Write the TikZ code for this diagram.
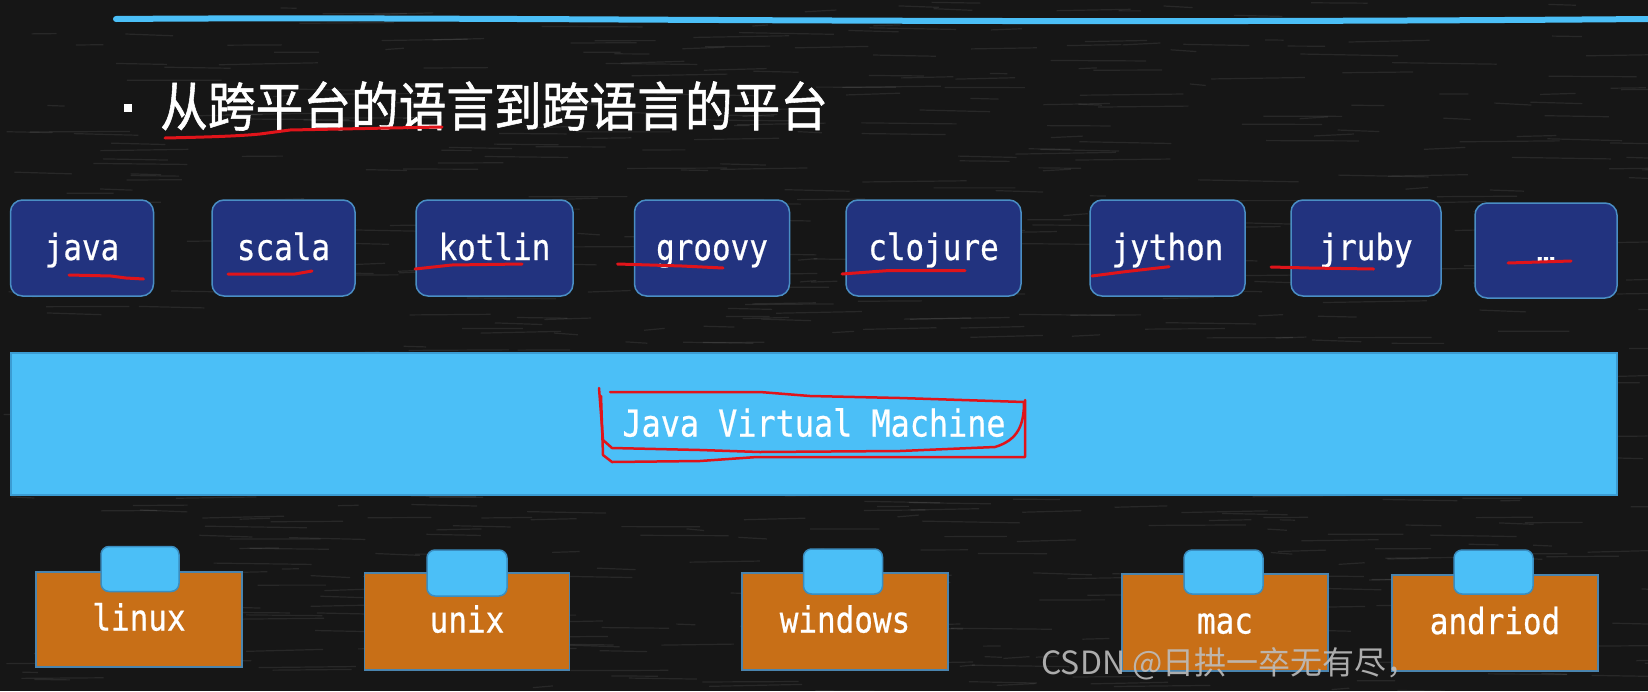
\documentclass[tikz,border=0pt]{standalone}
\usepackage{fontspec}
\newfontfamily\cjk{Noto Sans CJK SC}
\newfontfamily\titlefont[FakeStretch=0.9,FakeBold=1]{Noto Sans CJK SC}
\newfontfamily\monofont[FakeStretch=0.86,FakeBold=0.6]{DejaVu Sans Mono}
\definecolor{bg}{HTML}{161616}
\definecolor{langfill}{HTML}{22337F}
\definecolor{langedge}{HTML}{4A8EC4}
\definecolor{jvmfill}{HTML}{4BBFF7}
\definecolor{jvmedge}{HTML}{3B9CD3}
\definecolor{osfill}{HTML}{C86F17}
\definecolor{osedge}{HTML}{4A84AE}
\definecolor{tabfill}{HTML}{4BBFF7}
\definecolor{tabedge}{HTML}{3A8DC0}
\definecolor{redmark}{HTML}{E0141A}
\definecolor{wmark}{HTML}{BDBDBD}
\begin{document}
\begin{tikzpicture}[x=1pt,y=-1pt,
  langbox/.style={draw=langedge, fill=langfill, line width=1.5pt, rounded corners=12pt,
    text=white, font=\monofont\fontsize{36}{36}\selectfont, inner sep=0pt,
    text height=30pt, text depth=6pt},
  jvmbox/.style={draw=jvmedge, fill=jvmfill, line width=1.5pt,
    text=white, font=\monofont\fontsize{37}{37}\selectfont, inner sep=0pt,
    text height=30pt, text depth=5pt},
  osbox/.style={draw=osedge, fill=osfill, line width=1.5pt,
    text=white, font=\monofont\fontsize{36}{36}\selectfont, inner sep=0pt,
    text height=28pt, text depth=6pt},
  ostab/.style={draw=tabedge, fill=tabfill, line width=1.5pt, rounded corners=8pt, inner sep=0pt},
  redpen/.style={draw=redmark, line width=3pt, line cap=round, line join=round},
  topline/.style={draw=jvmfill, line width=6pt, line cap=round},
]
\useasboundingbox (0,0) rectangle (1648,691);
\fill[bg] (0,0) rectangle (1648,691);
% chalkboard texture
\pgfmathsetseed{7}
\foreach \i in {1,...,700}{
  \pgfmathsetmacro\xx{rnd*1648}
  \pgfmathsetmacro\yy{rnd*691}
  \pgfmathsetmacro\ll{15+rnd*90}
  \pgfmathsetmacro\dd{rnd*4-2}
  \draw[white, opacity=0.08, line width=1.2pt] (\xx,\yy) -- ++(\ll,\dd);
}
% top line
\coordinate (tl1) at (116,19);
\coordinate (tl2) at (1648,19);
\draw[topline] (tl1) .. controls (500,16) and (900,25) .. (tl2);
% title
\node[fill=white, minimum size=8pt, inner sep=0pt] (bullet) at (128,108) {};
\node[anchor=west, inner sep=0pt, text=white, font=\titlefont\fontsize{53}{53}\selectfont] (title) at (160,106) {从跨平台的语言到跨语言的平台};
\draw[redpen] (165,138) .. controls (210,137) and (240,136) .. (260,134) -- (290,130) -- (390,128) -- (442,127);
% language boxes
\node[langbox, minimum width=143pt, minimum height=96pt] (java) at (82,248) {java};
\node[langbox, minimum width=143pt, minimum height=96pt] (scala) at (283.5,248) {scala};
\node[langbox, minimum width=157pt, minimum height=96pt] (kotlin) at (494.5,248) {kotlin};
\node[langbox, minimum width=155pt, minimum height=96pt] (groovy) at (712,248) {groovy};
\node[langbox, minimum width=175pt, minimum height=96pt] (clojure) at (933.5,248) {clojure};
\node[langbox, minimum width=155pt, minimum height=96pt] (jython) at (1167.5,248) {jython};
\node[langbox, minimum width=150pt, minimum height=96pt] (jruby) at (1366,248) {jruby};
\node[langbox, minimum width=142pt, minimum height=95pt] (more) at (1546,250.5) {…};
% red underlines
\draw[redpen] (69,275) -- (111,276) -- (126,278) -- (143.5,279);
\draw[redpen] (228,274) -- (295,274) -- (312,271);
\draw[redpen] (415,269) -- (451.6,265) -- (522,264);
\draw[redpen] (617.5,264) -- (682,266) -- (723,268);
\draw[redpen] (842,274) -- (886.5,270.7) -- (965,270.7);
\draw[redpen] (1092,276) -- (1125,271.7) -- (1169,266.7);
\draw[redpen] (1271,267) -- (1309,268) -- (1373.6,269);
\draw[redpen] (1508,263) -- (1571,261);
% JVM
\node[jvmbox, minimum width=1606pt, minimum height=142pt] (jvm) at (814,424) {Java Virtual Machine};
\draw[redpen, line width=2.5pt] (599,388) -- (603,440) -- (612,448) -- (700,450) -- (760,452) -- (900,451) -- (995,447)
  .. controls (1018,440) and (1024,425) .. (1024,402) -- (900,398) -- (810,396) -- (760,392) -- (610,392);
\draw[redpen, line width=2.5pt] (601,396) -- (603,455) -- (612,462) -- (700,461) -- (757,457) -- (1025,457) -- (1025,400);
% OS boxes
\node[osbox, minimum width=206pt, minimum height=95pt] (linux) at (139,619.5) {linux};
\node[ostab, minimum width=78pt, minimum height=45pt] (linuxtab) at (140,569) {};
\node[osbox, minimum width=205pt, minimum height=97pt] (unix) at (467,621.5) {unix};
\node[ostab, minimum width=80pt, minimum height=46pt] (unixtab) at (467,573) {};
\node[osbox, minimum width=206pt, minimum height=97pt] (windows) at (845,621.5) {windows};
\node[ostab, minimum width=79pt, minimum height=45pt] (windowstab) at (843,571.5) {};
\node[osbox, minimum width=206pt, minimum height=97pt] (mac) at (1225,622.5) {mac};
\node[ostab, minimum width=79pt, minimum height=44pt] (mactab) at (1223.5,572) {};
\node[osbox, minimum width=206pt, minimum height=96pt] (andriod) at (1495,623) {andriod};
\node[ostab, minimum width=79pt, minimum height=44pt] (andriodtab) at (1493.5,572) {};
% watermark
\node[text=wmark, opacity=0.9, inner sep=0pt, font=\cjk\fontsize{32}{32}\selectfont] (wm) at (1230,664) {CSDN @日拱一卒无有尽，};
\end{tikzpicture}
\end{document}
